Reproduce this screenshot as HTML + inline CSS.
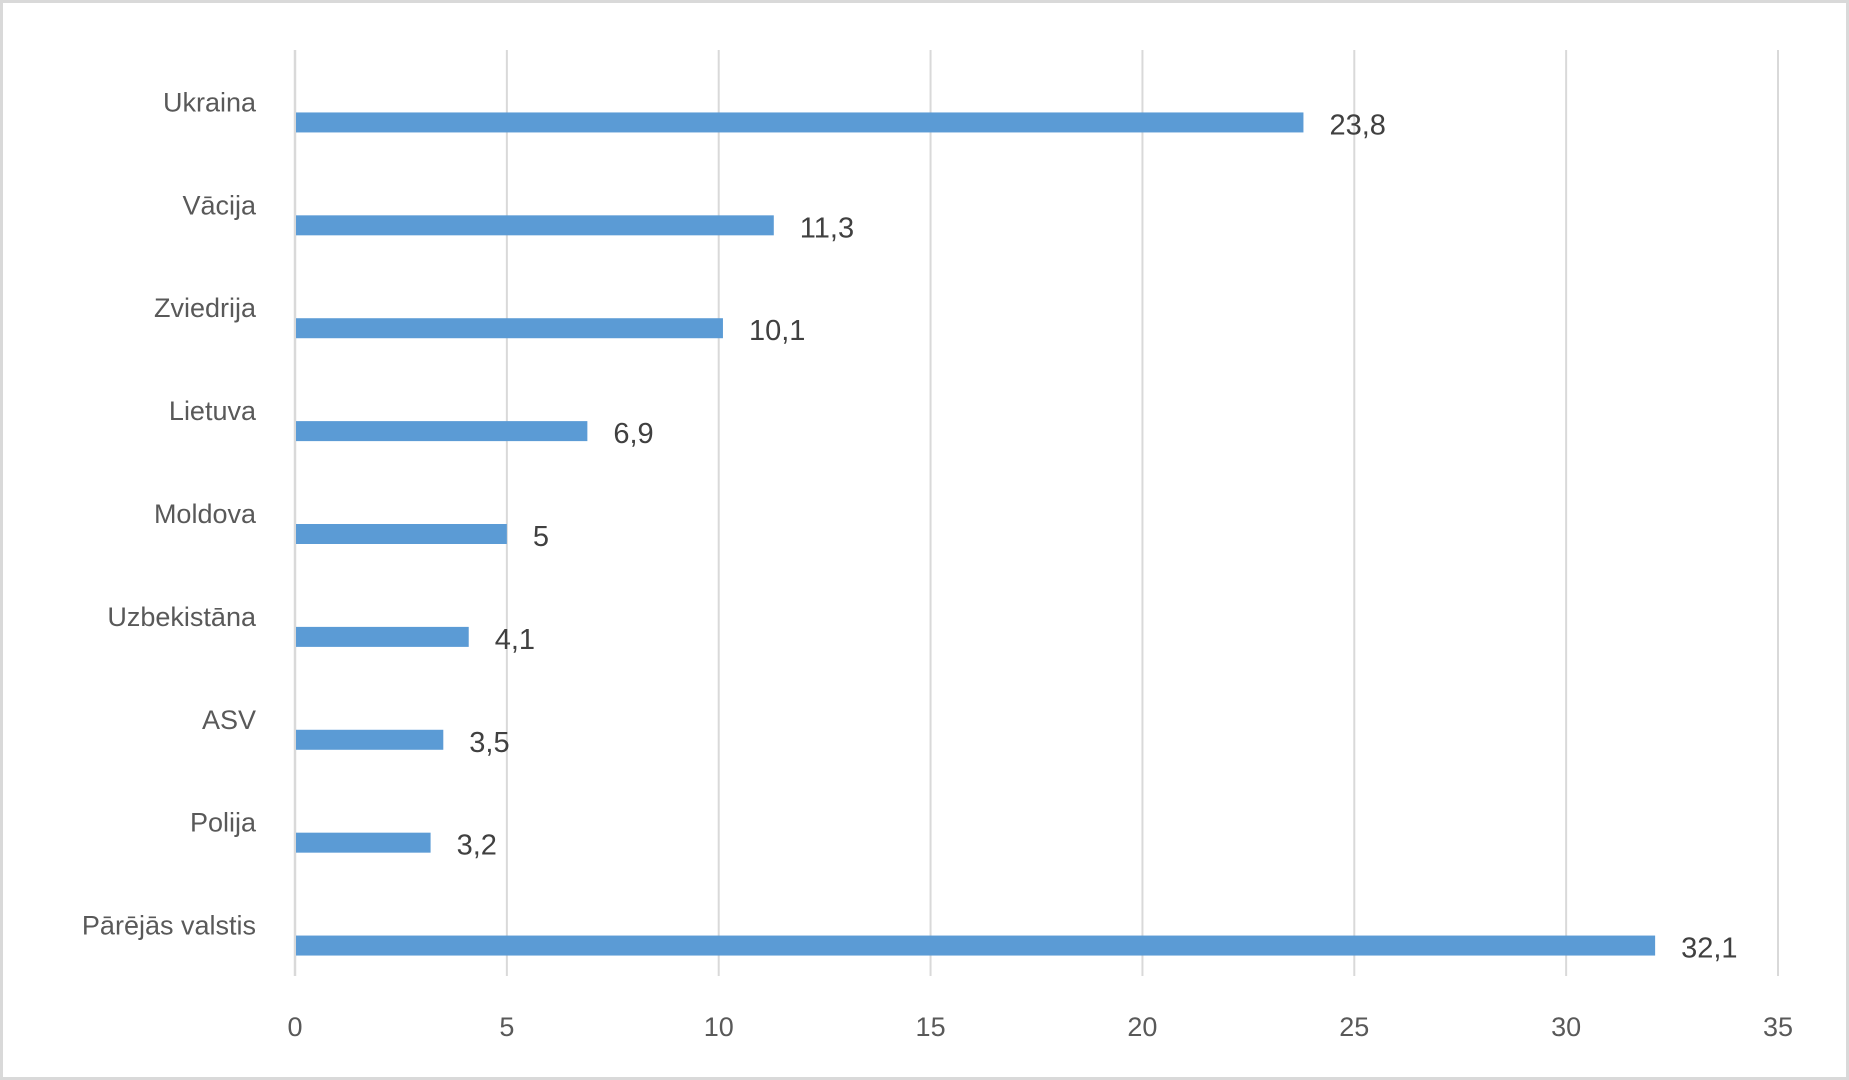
<!DOCTYPE html>
<html><head><meta charset="utf-8"><style>
html,body{margin:0;padding:0;background:#fff;}
svg{display:block;font-family:"Liberation Sans",sans-serif;}
</style></head><body>
<svg id="chart" width="1849" height="1080" viewBox="0 0 1849 1080" xmlns="http://www.w3.org/2000/svg">
<rect x="1.5" y="1.5" width="1846" height="1077" fill="#fff" stroke="#d9d9d9" stroke-width="3"/>
<g id="grid"></g><g id="bars"></g><g id="labels"></g>
</svg>
<script>
const categories=["Ukraina","Vācija","Zviedrija","Lietuva","Moldova","Uzbekistāna","ASV","Polija","Pārējās valstis"];
const values=[23.8,11.3,10.1,6.9,5,4.1,3.5,3.2,32.1];
const valueLabels=["23,8","11,3","10,1","6,9","5","4,1","3,5","3,2","32,1"];
const ticks=[0,5,10,15,20,25,30,35];
const NS="http://www.w3.org/2000/svg";
const x0=295,x1=1778,yTop=50,yBottom=976,maxV=35;
const xs=v=>x0+(x1-x0)*v/maxV;
const band=(yBottom-yTop)/categories.length;
function mk(t,a,p){const e=document.createElementNS(NS,t);for(const k in a)e.setAttribute(k,a[k]);p.appendChild(e);return e;}
const grid=document.getElementById('grid'),bars=document.getElementById('bars'),lab=document.getElementById('labels');
ticks.forEach(t=>{
 const l=mk('line',{x1:xs(t),x2:xs(t),y1:yTop,y2:yBottom,stroke:'#d9d9d9','stroke-width':t===0?2.5:2},grid);
 
 
 const tx=mk('text',{x:xs(t),y:1036,'text-anchor':'middle','font-size':27,fill:'#595959'},lab);
 tx.textContent=String(t);
 
 
});
categories.forEach((c,i)=>{
 const cy=yTop+band*i+band/2;
 const by=cy+21;
 const r=mk('rect',{x:x0+1,y:by-10,width:xs(values[i])-x0-1,height:20,fill:'#5b9bd5'},bars);
 
 
 const t=mk('text',{x:256,y:cy+10,'text-anchor':'end','font-size':27,fill:'#595959'},lab);
 t.textContent=c;
 
 
 const v=mk('text',{x:xs(values[i])+26,y:by+12,'font-size':29,fill:'#404040'},lab);
 v.textContent=valueLabels[i];
 
 
});
</script>
</body></html>
